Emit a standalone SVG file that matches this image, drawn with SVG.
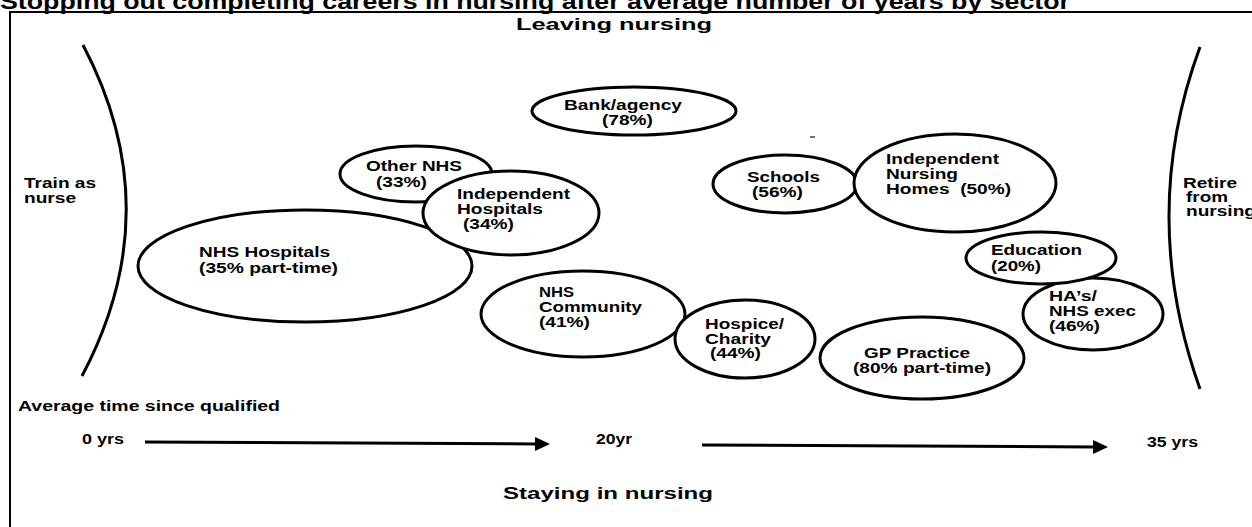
<svg xmlns="http://www.w3.org/2000/svg" width="1252" height="527" viewBox="0 0 1252 527">
  <style>
    text { font-family: "Liberation Sans", Arial, sans-serif; font-weight: bold; fill: #000; }
    .lbl { font-size: 14px; }
    .ax { font-size: 14px; }
    .hd { font-size: 17px; }
    .node ellipse { fill: #fff; stroke: #000; stroke-width: 3; }
    .bound { fill: none; stroke: #000; stroke-width: 3; }
    .conn line { stroke: #000; stroke-width: 3; }
  </style>
  <defs>
    <marker id="arr" markerUnits="userSpaceOnUse" markerWidth="16" markerHeight="14" refX="2" refY="7" orient="auto">
      <path d="M0,0 L15,7 L0,14 Z" fill="#000"/>
    </marker>
  </defs>
  <rect width="1252" height="527" fill="#fff"/>

  <!-- title (clipped at the top edge, as in the reference) -->
  <text x="0" y="9" style="font-size:22px" textLength="1070" lengthAdjust="spacingAndGlyphs">Stopping out completing careers in nursing after average number of years by sector</text>
  <!-- frame -->
  <rect x="10" y="12" width="1400" height="700" fill="none" stroke="#000" stroke-width="2"/>

  <text class="hd" x="516" y="30" textLength="196" lengthAdjust="spacingAndGlyphs">Leaving nursing</text>

  <!-- side boundaries -->
  <path class="bound" d="M83,45 Q170,210 82,376"/>
  <path class="bound" d="M1200,47 Q1138,215 1200,389"/>
  <g id="train">
    <text class="lbl" x="24" y="188" textLength="72" lengthAdjust="spacingAndGlyphs">Train as</text>
    <text class="lbl" x="24" y="203" textLength="52" lengthAdjust="spacingAndGlyphs">nurse</text>
  </g>
  <g id="retire">
    <text class="lbl" x="1183" y="188" textLength="54" lengthAdjust="spacingAndGlyphs">Retire</text>
    <text class="lbl" x="1186" y="202" textLength="42" lengthAdjust="spacingAndGlyphs">from</text>
    <text class="lbl" x="1186" y="216" textLength="70" lengthAdjust="spacingAndGlyphs">nursing</text>
  </g>

  <!-- stray mark -->
  <line x1="810" y1="137" x2="815" y2="137" stroke="#444" stroke-width="1.5"/>

  <g id="bank" class="node">
    <ellipse cx="634" cy="111" rx="102" ry="24"/>
    <text class="lbl" x="564" y="110" textLength="118" lengthAdjust="spacingAndGlyphs">Bank/agency</text>
    <text class="lbl" x="602" y="125" textLength="51" lengthAdjust="spacingAndGlyphs">(78%)</text>
  </g>
  <g id="other-nhs" class="node">
    <ellipse cx="416" cy="174" rx="76" ry="28"/>
    <text class="lbl" x="366" y="171" textLength="96" lengthAdjust="spacingAndGlyphs">Other NHS</text>
    <text class="lbl" x="376" y="187" textLength="51" lengthAdjust="spacingAndGlyphs">(33%)</text>
  </g>
  <g id="nhs-hospitals" class="node">
    <ellipse cx="305" cy="266" rx="167" ry="56"/>
    <text class="lbl" x="199" y="257" textLength="131" lengthAdjust="spacingAndGlyphs">NHS Hospitals</text>
    <text class="lbl" x="199" y="273" textLength="139" lengthAdjust="spacingAndGlyphs">(35% part-time)</text>
  </g>
  <g id="independent-hospitals" class="node">
    <ellipse cx="511" cy="213" rx="88" ry="42"/>
    <text class="lbl" x="457" y="199" textLength="113" lengthAdjust="spacingAndGlyphs">Independent</text>
    <text class="lbl" x="457" y="214" textLength="86" lengthAdjust="spacingAndGlyphs">Hospitals</text>
    <text class="lbl" x="463" y="229" textLength="51" lengthAdjust="spacingAndGlyphs">(34%)</text>
  </g>
  <g id="nhs-community" class="node">
    <ellipse cx="583" cy="314" rx="102" ry="43"/>
    <text class="lbl" x="539" y="297" textLength="35" lengthAdjust="spacingAndGlyphs">NHS</text>
    <text class="lbl" x="539" y="312" textLength="103" lengthAdjust="spacingAndGlyphs">Community</text>
    <text class="lbl" x="539" y="327" textLength="51" lengthAdjust="spacingAndGlyphs">(41%)</text>
  </g>
  <g id="hospice" class="node">
    <ellipse cx="745" cy="339" rx="70" ry="39"/>
    <text class="lbl" x="705" y="329" textLength="79" lengthAdjust="spacingAndGlyphs">Hospice/</text>
    <text class="lbl" x="705" y="344" textLength="66" lengthAdjust="spacingAndGlyphs">Charity</text>
    <text class="lbl" x="710" y="358" textLength="51" lengthAdjust="spacingAndGlyphs">(44%)</text>
  </g>
  <g id="gp" class="node">
    <ellipse cx="922" cy="358" rx="102" ry="41"/>
    <text class="lbl" x="864" y="358" textLength="106" lengthAdjust="spacingAndGlyphs">GP Practice</text>
    <text class="lbl" x="853" y="373" textLength="138" lengthAdjust="spacingAndGlyphs">(80% part-time)</text>
  </g>
  <g id="schools" class="node">
    <ellipse cx="785" cy="184" rx="72" ry="29"/>
    <text class="lbl" x="747" y="182" textLength="73" lengthAdjust="spacingAndGlyphs">Schools</text>
    <text class="lbl" x="752" y="197" textLength="51" lengthAdjust="spacingAndGlyphs">(56%)</text>
  </g>
  <g id="nursing-homes" class="node">
    <ellipse cx="955" cy="183" rx="101" ry="49"/>
    <text class="lbl" x="886" y="164" textLength="113" lengthAdjust="spacingAndGlyphs">Independent</text>
    <text class="lbl" x="886" y="179" textLength="72" lengthAdjust="spacingAndGlyphs">Nursing</text>
    <text class="lbl" x="886" y="194" textLength="125" lengthAdjust="spacingAndGlyphs" xml:space="preserve">Homes  (50%)</text>
  </g>
  <g id="has" class="node">
    <ellipse cx="1093" cy="314" rx="70" ry="36"/>
    <text class="lbl" x="1049" y="301" textLength="48" lengthAdjust="spacingAndGlyphs">HA’s/</text>
    <text class="lbl" x="1049" y="316" textLength="87" lengthAdjust="spacingAndGlyphs">NHS exec</text>
    <text class="lbl" x="1049" y="331" textLength="51" lengthAdjust="spacingAndGlyphs">(46%)</text>
  </g>
  <g id="education" class="node">
    <ellipse cx="1041" cy="258" rx="75" ry="26"/>
    <text class="lbl" x="991" y="255" textLength="91" lengthAdjust="spacingAndGlyphs">Education</text>
    <text class="lbl" x="991" y="271" textLength="50" lengthAdjust="spacingAndGlyphs">(20%)</text>
  </g>

  <!-- time axis -->
  <g id="axis">
    <text class="ax" x="18" y="411" textLength="262" lengthAdjust="spacingAndGlyphs">Average time since qualified</text>
    <text class="ax" x="82" y="444" textLength="42" lengthAdjust="spacingAndGlyphs">0 yrs</text>
    <text class="ax" x="596" y="444" textLength="36" lengthAdjust="spacingAndGlyphs">20yr</text>
    <text class="ax" x="1147" y="447" textLength="51" lengthAdjust="spacingAndGlyphs">35 yrs</text>
  </g>
  <g id="connectors" class="conn">
    <line x1="145" y1="442" x2="537" y2="444" marker-end="url(#arr)"/>
    <line x1="702" y1="445" x2="1095" y2="447" marker-end="url(#arr)"/>
  </g>

  <text class="hd" x="503" y="499" textLength="210" lengthAdjust="spacingAndGlyphs">Staying in nursing</text>
</svg>
